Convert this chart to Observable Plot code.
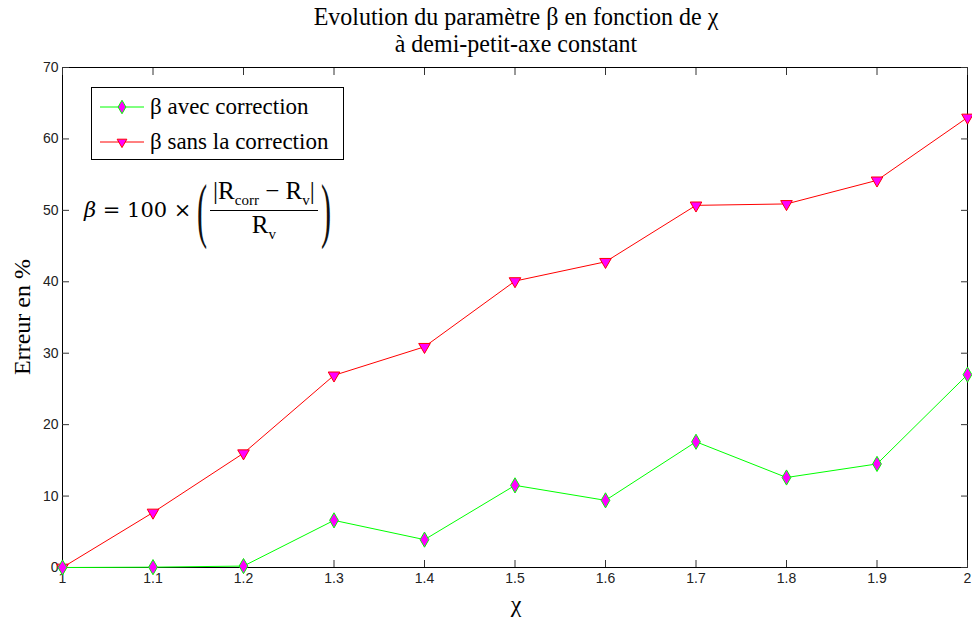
<!DOCTYPE html>
<html><head><meta charset="utf-8">
<script src="https://cdn.jsdelivr.net/npm/d3@7"></script>
<script src="https://cdn.jsdelivr.net/npm/@observablehq/plot@0.6"></script>
<style>
body{margin:0;background:#fff;}
#wrap{position:relative;width:972px;height:619px;overflow:hidden;font-family:"Liberation Serif","Times New Roman",serif;}
.ov{position:absolute;white-space:nowrap;color:#000;font-family:"Liberation Serif","Times New Roman",serif;}
#title{left:0;width:1032px;top:3px;text-align:center;font-size:24px;line-height:25px;transform:scaleY(1.08);transform-origin:top;}
#ylab{left:22px;top:317px;font-size:24px;transform:translate(-50%,-50%) rotate(-90deg);}
#xlab{left:516px;top:604px;font-size:24px;transform:translate(-50%,-50%);}
#legend{left:91px;top:87px;width:251px;height:71px;border:1px solid #000;background:#fff;}
#legend .row{position:absolute;left:6px;height:30px;display:flex;align-items:center;font-size:23px;font-family:"Liberation Serif","Times New Roman",serif;}
#formula{left:84px;top:176px;height:68px;display:flex;align-items:center;font-family:"DejaVu Serif","Liberation Serif",serif;font-size:21px;}
.paren{font-size:72px;transform:scaleX(0.42);display:inline-block;line-height:68px;margin:0 -8px;font-family:"Liberation Serif",serif;font-weight:normal;color:#111;}
.frac{display:inline-flex;flex-direction:column;align-items:center;margin:0 4px;font-family:"Liberation Serif",serif;font-size:25px;}
.frac .num{border-bottom:1px solid #000;padding:0 3px 1px 3px;}
.frac .den{padding-top:0px;}
sub{font-size:15px;}
</style>
</head><body>
<div id="wrap">
  <div id="chart"></div>
  <div class="ov" id="title"></div>
  <div class="ov" id="ylab"></div>
  <div class="ov" id="xlab"></div>
  <div class="ov" id="legend"></div>
  <div class="ov" id="formula"><i>β</i>&nbsp;=&nbsp;100&nbsp;×&nbsp;<span class="paren">(</span><span class="frac"><span class="num">|R<sub>corr</sub> − R<sub>v</sub>|</span><span class="den">R<sub>v</sub></span></span><span class="paren">)</span></div>
</div>
<script>
const titleLines = ["Evolution du paramètre β en fonction de χ", "à demi-petit-axe constant"];
const yLabel = "Erreur en %";
const xLabel = "χ";
const chi = [1, 1.1, 1.2, 1.3, 1.4, 1.5, 1.6, 1.7, 1.8, 1.9, 2];
const avecCorrection = [0, 0.05, 0.2, 6.6, 3.9, 11.5, 9.4, 17.6, 12.6, 14.5, 27.0];
const sansCorrection = [0, 7.7, 16.0, 26.9, 30.9, 40.1, 42.8, 50.7, 50.9, 54.2, 63.0];
const xTicks = [1, 1.1, 1.2, 1.3, 1.4, 1.5, 1.6, 1.7, 1.8, 1.9, 2];
const yTicks = [0, 10, 20, 30, 40, 50, 60, 70];
const seriesNames = ["β avec correction", "β sans la correction"];
const lineColors = ["#00ff00", "#ff0000"];
const markerFill = "#ff00ff";

const avecData = chi.map((x, i) => ({x, y: avecCorrection[i]}));
const sansData = chi.map((x, i) => ({x, y: sansCorrection[i]}));

const fmt = d => String(d);
const tickFont = {fontFamily: "Liberation Sans, Arial, sans-serif", fontSize: 14};

const chart = Plot.plot({
  width: 972, height: 619,
  marginLeft: 62, marginRight: 5, marginTop: 67, marginBottom: 52,
  style: {fontFamily: "Liberation Sans, Arial, sans-serif", fontSize: "14px", background: "#fff", color: "#000"},
  x: {domain: [1, 2], label: null},
  y: {domain: [0, 70], label: null},
  marks: [
    Plot.frame({stroke: "#000"}),
    Plot.axisX({ticks: xTicks, tickFormat: fmt, tickSize: -7, tickPadding: 13, label: null, ...tickFont, stroke: "#333", fill: "#222"}),
    Plot.axisX({anchor: "top", ticks: xTicks, tickFormat: () => "", tickSize: -7, label: null, stroke: "#333"}),
    Plot.axisY({ticks: yTicks, tickFormat: fmt, tickSize: -7, tickPadding: 11, label: null, ...tickFont, stroke: "#333", fill: "#222"}),
    Plot.axisY({anchor: "right", ticks: yTicks, tickFormat: () => "", tickSize: -7, label: null, stroke: "#333"}),
    Plot.line(sansData, {x: "x", y: "y", stroke: lineColors[1], strokeWidth: 1}),
    Plot.line(avecData, {x: "x", y: "y", stroke: lineColors[0], strokeWidth: 1}),
    Plot.dot(sansData, {x: "x", y: "y", symbol: "triangle", rotate: 180, r: 4.3, fill: markerFill, stroke: lineColors[1], strokeWidth: 1}),
    Plot.dot(avecData, {x: "x", y: "y", symbol: "diamond", r: 4.6, fill: markerFill, stroke: lineColors[0], strokeWidth: 1})
  ]
});
document.getElementById("chart").appendChild(chart);

document.getElementById("title").innerHTML = titleLines.join("<br>");
document.getElementById("ylab").textContent = yLabel;
document.getElementById("xlab").textContent = xLabel;

const legend = document.getElementById("legend");
seriesNames.forEach((name, i) => {
  const row = document.createElement("div");
  row.className = "row";
  row.style.top = (4 + i * 35) + "px";
  const svg = d3.create("svg").attr("width", 50).attr("height", 30);
  svg.append("line").attr("x1", 2).attr("x2", 46).attr("y1", 15).attr("y2", 15).attr("stroke", lineColors[i]);
  svg.append("path").attr("transform", `translate(24,15)${i === 1 ? " rotate(180)" : ""}`)
    .attr("d", d3.symbol(i === 0 ? d3.symbolDiamond : d3.symbolTriangle, i === 0 ? 4.6 * 4.6 * 2.5 : 4.3 * 4.3 * 2.2)())
    .attr("fill", markerFill).attr("stroke", lineColors[i]);
  row.appendChild(svg.node());
  const span = document.createElement("span");
  span.textContent = name;
  span.style.marginLeft = "2px";
  row.appendChild(span);
  legend.appendChild(row);
});
</script>
</body></html>
